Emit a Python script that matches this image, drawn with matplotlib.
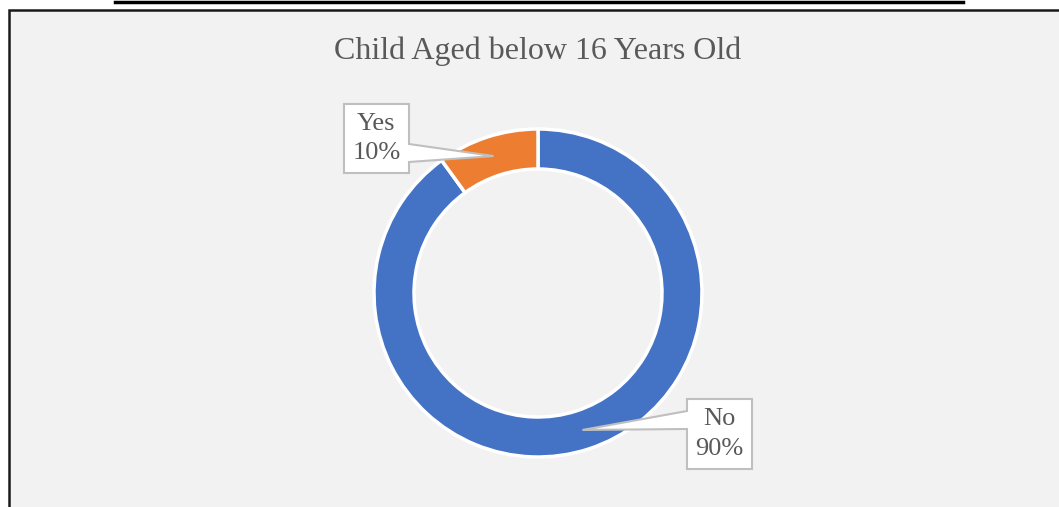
import numpy as np
import matplotlib.pyplot as plt
from matplotlib.patches import Rectangle, Polygon

# Données du graphique
categories = ["No", "Yes"]
values = [90, 10]
colors = ["#4472C4", "#ED7D31"]
title = "Child Aged below 16 Years Old"

W, H = 1059, 507

def py(y):
    # coordonnée pixel (haut -> bas) vers coordonnée axe
    return H - y

fig = plt.figure(figsize=(W / 100, H / 100), dpi=100)
ax = fig.add_axes([0, 0, 1, 1])

# Cadre du graphique
ax.add_patch(Rectangle((9, -5), W + 10, py(10) + 5, facecolor="#f2f2f2",
                       edgecolor="#1a1a1a", linewidth=1.8, zorder=0))
# trait du titre de figure (coupé en haut)
ax.plot([115, 963], [py(1.5), py(1.5)], color="black", linewidth=2.5, zorder=1)

cx, cy = 538, py(293)
r_out, r_in = 164, 124

wedges, _ = ax.pie(values, colors=colors, startangle=90, counterclock=False,
                   radius=r_out, center=(cx, cy),
                   wedgeprops=dict(width=r_out - r_in, edgecolor="white", linewidth=2.5))

ax.text(cx, py(59), title, ha="center", va="baseline", fontsize=23,
        color="#595959", family="Liberation Serif")

# Étiquettes avec bulle : boîte (x0, y0, x1, y1), côté du pointeur, base du pointeur
boxes = {"No": (687, 399, 752, 469, "left", 411, 429),
         "Yes": (344, 104, 409, 173, "right", 144, 162)}

for w, cat, v in zip(wedges, categories, values):
    ang = np.deg2rad((w.theta1 + w.theta2) / 2)
    rm = (r_out + r_in) / 2
    anchor = (cx + rm * np.cos(ang), cy + rm * np.sin(ang))
    x0, y0, x1, y1, side, b0, b1 = boxes[cat]
    if side == "right":
        poly = [(x0, py(y0)), (x1, py(y0)), (x1, py(b0)), anchor,
                (x1, py(b1)), (x1, py(y1)), (x0, py(y1))]
    else:
        poly = [(x0, py(y0)), (x1, py(y0)), (x1, py(y1)), (x0, py(y1)),
                (x0, py(b1)), anchor, (x0, py(b0))]
    ax.add_patch(Polygon(poly, closed=True, facecolor="white", edgecolor="#bfbfbf",
                         linewidth=1.5, zorder=5))
    ax.text((x0 + x1) / 2, py((y0 + y1) / 2), f"{cat}\n{v}%", ha="center", va="center",
            fontsize=19, color="#595959", family="Liberation Serif",
            linespacing=1.42, zorder=6)

ax.set_xlim(0, W)
ax.set_ylim(0, H)
ax.set_aspect("auto")
ax.axis("off")
fig.savefig("out.png", dpi=100)
